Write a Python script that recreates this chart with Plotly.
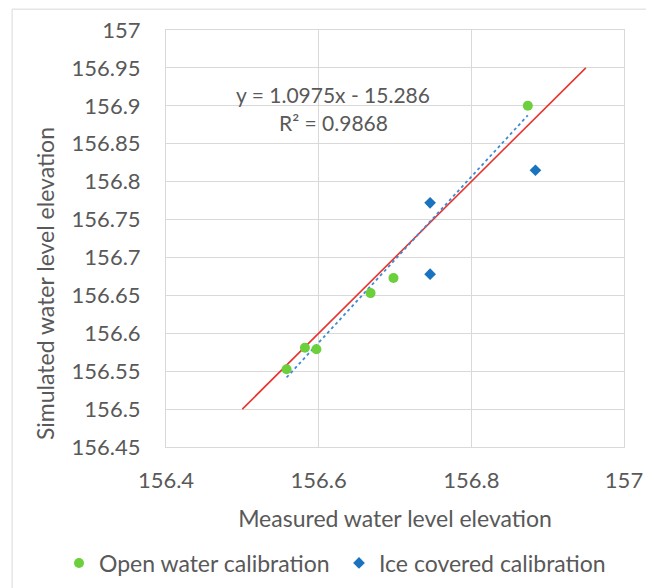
import numpy as np
import plotly.graph_objects as go

# Data
open_x = [156.558, 156.582, 156.597, 156.668, 156.698, 156.874]
open_y = [156.5525, 156.581, 156.579, 156.653, 156.673, 156.900]
ice_x = [156.746, 156.746, 156.884]
ice_y = [156.772, 156.678, 156.815]
one_to_one = [156.5, 156.95]
equation_text = "y = 1.0975x - 15.286"
r2_text = "R² = 0.9868"
x_title = "Measured water level elevation"
y_title = "Simulated water level elevation"
x_ticks = [156.4, 156.6, 156.8, 157.0]
x_tick_labels = ["156.4", "156.6", "156.8", "157"]
y_ticks = [156.45, 156.5, 156.55, 156.6, 156.65, 156.7, 156.75, 156.8, 156.85, 156.9, 156.95, 157.0]
y_tick_labels = ["156.45", "156.5", "156.55", "156.6", "156.65", "156.7", "156.75",
                 "156.8", "156.85", "156.9", "156.95", "157"]

FONT = "Lato"
TXT = "#595959"
GRID = "#d9d9d9"

slope, intercept = np.polyfit(open_x, open_y, 1)
tx = np.array([min(open_x), max(open_x)])
ty = slope * tx + intercept

fig = go.Figure()
fig.add_trace(go.Scatter(x=one_to_one, y=one_to_one, mode="lines",
                         line=dict(color="#e8352f", width=1.6), showlegend=False, hoverinfo="skip"))
fig.add_trace(go.Scatter(x=tx, y=ty, mode="lines",
                         line=dict(color="#3f8ad2", width=1.8, dash="dot"), showlegend=False, hoverinfo="skip"))
fig.add_trace(go.Scatter(x=open_x, y=open_y, mode="markers", name="Open water calibration",
                         marker=dict(symbol="circle", size=10, color="#6ccf3c"), legend="legend"))
fig.add_trace(go.Scatter(x=ice_x, y=ice_y, mode="markers", name="Ice covered calibration",
                         marker=dict(symbol="diamond", size=9, color="#1a73be"), legend="legend2"))

fig.add_annotation(x=156.619, y=156.915, xref="x", yref="y", text=equation_text, showarrow=False,
                   font=dict(family=FONT, size=21, color=TXT))
fig.add_annotation(x=156.619, y=156.878, xref="x", yref="y", text=r2_text, showarrow=False,
                   font=dict(family=FONT, size=21, color=TXT))
# y-axis title (placed lower than the plot centre, as in the reference)
fig.add_annotation(x=-0.264, y=0.391, xref="paper", yref="paper", text=y_title, textangle=-90,
                   showarrow=False, xanchor="center", yanchor="middle",
                   font=dict(family=FONT, size=23, color=TXT))

# chart-area border
fig.add_shape(type="rect", xref="paper", yref="paper", x0=-0.336, x1=1.08, y0=-0.45, y1=1.05,
              line=dict(color="#d9d9d9", width=1), fillcolor="rgba(0,0,0,0)", layer="below")

legend_common = dict(orientation="h", xref="container", yref="container",
                     xanchor="left", y=(588 - 563) / 588, yanchor="middle",
                     font=dict(family=FONT, size=23, color=TXT), itemwidth=30,
                     bgcolor="rgba(0,0,0,0)")

fig.update_layout(
    width=646, height=588,
    margin=dict(l=166, r=22, t=30, b=141, autoexpand=False),
    paper_bgcolor="white", plot_bgcolor="white",
    font=dict(family=FONT, size=22, color=TXT),
    showlegend=True,
    legend=dict(x=59 / 646, **legend_common),
    legend2=dict(x=339 / 646, **legend_common),
)
fig.update_xaxes(range=[156.4, 157.0], tickvals=x_ticks, ticktext=x_tick_labels,
                 showgrid=True, gridcolor=GRID, gridwidth=1, zeroline=False,
                 showline=True, linecolor=GRID, mirror=True, automargin=False,
                 ticks="outside", ticklen=14, tickcolor="rgba(0,0,0,0)",
                 tickfont=dict(family=FONT, size=22, color=TXT),
                 title=dict(text=x_title, standoff=18,
                            font=dict(family=FONT, size=23, color=TXT)))
fig.update_yaxes(range=[156.45, 157.0], tickvals=y_ticks, ticktext=y_tick_labels,
                 showgrid=True, gridcolor=GRID, gridwidth=1, zeroline=False,
                 showline=True, linecolor=GRID, mirror=True, automargin=False,
                 ticks="outside", ticklen=20, tickcolor="rgba(0,0,0,0)",
                 tickfont=dict(family=FONT, size=22, color=TXT))

fig.write_html("out.html")
